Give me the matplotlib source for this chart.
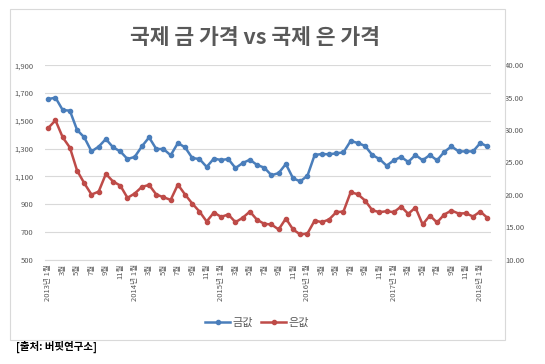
import matplotlib
matplotlib.use("Agg")
import matplotlib.pyplot as plt
from matplotlib.patches import Rectangle
from matplotlib.lines import Line2D

plt.rcParams['font.family'] = ['Noto Sans CJK KR', 'DejaVu Sans']

# 2013년 1월 ~ 2018년 2월 월별 시세
months = [(2013 + i // 12, i % 12 + 1) for i in range(62)]

gold = [1657, 1667, 1578, 1573, 1434, 1381, 1280, 1314, 1369, 1309, 1280, 1225,
        1240, 1316, 1381, 1297, 1297, 1252, 1340, 1309, 1232, 1225, 1168, 1228,
        1218, 1225, 1160, 1196, 1220, 1182, 1163, 1108, 1124, 1189, 1086, 1064,
        1105, 1254, 1261, 1259, 1266, 1273, 1355, 1340, 1319, 1254, 1225, 1177,
        1216, 1240, 1204, 1254, 1216, 1254, 1216, 1276, 1316, 1280, 1280, 1280,
        1340, 1316]

silver = [30.33, 31.51, 28.89, 27.30, 23.75, 21.80, 20.05, 20.51, 23.24, 22.06, 21.44, 19.54,
          20.21, 21.23, 21.54, 20.05, 19.64, 19.23, 21.59, 20.05, 18.66, 17.43, 15.89, 17.28,
          16.61, 16.97, 15.79, 16.46, 17.43, 16.15, 15.53, 15.43, 14.66, 16.35, 14.66, 13.89,
          14.04, 16.04, 15.79, 16.20, 17.33, 17.43, 20.41, 20.10, 19.13, 17.64, 17.33, 17.48,
          17.33, 18.20, 17.07, 18.05, 15.43, 16.81, 15.74, 16.97, 17.58, 17.12, 17.17, 16.66,
          17.43, 16.45]

tick_labels = []
for y, m in months:
    if m == 1:
        tick_labels.append(f"{y}년 {m}월")
    elif m % 2 == 1:
        tick_labels.append(f"{m}월")
    else:
        tick_labels.append("")

gold_color = '#4a7ebb'
silver_color = '#be4b48'
grey = '#595959'

fig = plt.figure(figsize=(5.45, 3.64), dpi=100)

# chart frame
fig.patches.append(Rectangle((10 / 545, 1 - 340 / 364), 495 / 545, 331 / 364,
                             transform=fig.transFigure, fill=False,
                             edgecolor='#d9d9d9', linewidth=0.8))

ax = fig.add_axes([0.082, 0.2866, 0.819, 0.534])
ax2 = ax.twinx()

x = list(range(len(months)))
ax.plot(x, gold, color=gold_color, lw=1.8, marker='o', ms=3, zorder=3)
ax2.plot(x, silver, color=silver_color, lw=1.8, marker='o', ms=3, zorder=3)

ax.set_xlim(-0.5, len(months) - 0.5)
ax.set_ylim(500, 1900)
ax.set_yticks(range(500, 1901, 200))
ax.set_yticklabels([f"{v:,}" for v in range(500, 1901, 200)])
ax2.set_ylim(10, 40)
ax2.set_yticks(range(10, 41, 5))
ax2.set_yticklabels([f"{v:.2f}" for v in range(10, 41, 5)])

ax.grid(axis='y', color='#d9d9d9', lw=0.8)
ax.set_axisbelow(True)
ax.set_xticks(x)
ax.set_xticklabels(tick_labels, rotation=90, fontsize=5, color=grey)

for a in (ax, ax2):
    for s in a.spines.values():
        s.set_visible(False)
    a.tick_params(length=0, labelsize=5.5, labelcolor=grey)
ax.spines['bottom'].set_visible(True)
ax.spines['bottom'].set_color('#d9d9d9')
ax.tick_params(axis='y', pad=8)
ax2.tick_params(axis='y', pad=10)
ax.tick_params(axis='x', pad=3)

fig.text(0.468, 1 - 38 / 364, "국제 금 가격 vs 국제 은 가격", ha='center', va='center',
         fontsize=15.5, fontweight='bold', color=grey)

handles = [Line2D([], [], color=gold_color, lw=1.8, marker='o', ms=3),
           Line2D([], [], color=silver_color, lw=1.8, marker='o', ms=3)]
fig.legend(handles, ["금값", "은값"], loc='center', bbox_to_anchor=(257 / 545, 1 - 323 / 364),
           ncol=2, frameon=False, fontsize=8, labelcolor=grey, handlelength=2.2,
           handletextpad=0.2, columnspacing=0.8)

fig.text(16 / 545, 1 - 347 / 364, "[출처: 버핏연구소]", ha='left', va='center',
         fontsize=7.5, fontweight='bold', color='black')

fig.savefig("out.png", dpi=100)
